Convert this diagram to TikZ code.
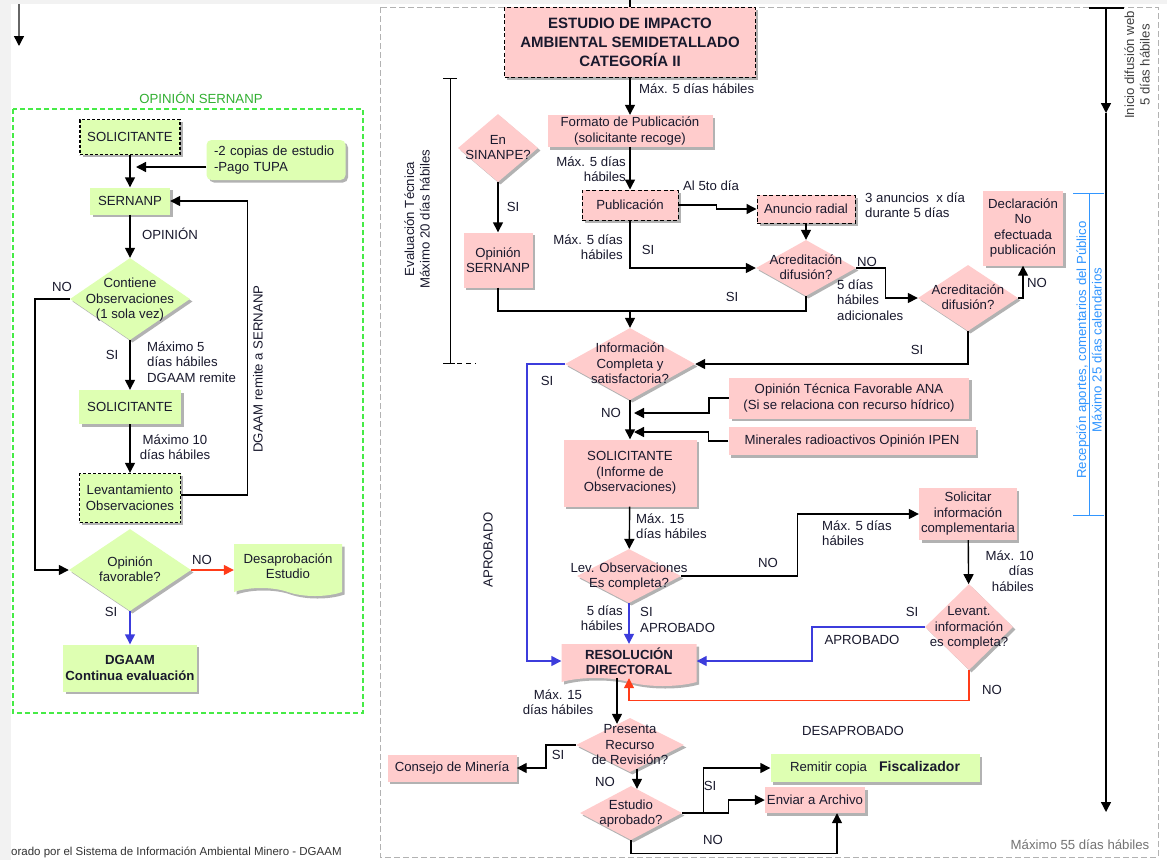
\documentclass[tikz,border=0pt]{standalone}
\usepackage{fontspec}
\setmainfont{Liberation Sans}
\usetikzlibrary{shapes.geometric, shapes.symbols, shadows, arrows.meta}
\definecolor{pinkc}{RGB}{255,204,204}
\definecolor{greenc}{RGB}{222,255,178}
\definecolor{framegreen}{RGB}{70,235,70}
\definecolor{titlegreen}{RGB}{50,175,50}
\definecolor{bluec}{RGB}{60,60,220}
\definecolor{redc}{RGB}{255,60,25}
\definecolor{skyc}{RGB}{50,150,255}
\definecolor{txtc}{RGB}{25,25,45}
\newcommand{\nfont}{\fontsize{13.2}{15.5}\selectfont}
\newcommand{\dtxt}[1]{\makebox[0pt]{\smash{\raisebox{-4pt}{\begin{tabular}{@{}c@{}}#1\end{tabular}}}}}
\tikzset{
  >={Stealth[length=10pt, width=10pt, inset=0pt]},
  flow/.style={->, line width=1.4pt},
  sz/.style 2 args={minimum width=#1pt, minimum height=#2pt},
  shad/.style={drop shadow={shadow xshift=2.5pt, shadow yshift=-2.5pt, fill=black, opacity=.3}},
  pbox/.style={rectangle, fill=pinkc, shad, align=center, inner sep=2pt},
  pdash/.style={pbox, draw=black, dash pattern=on 4pt off 2.5pt, line width=1pt},
  gbox/.style={rectangle, fill=greenc, shad, align=center, inner sep=2pt},
  gdash/.style={gbox, draw=black, dash pattern=on 3pt off 2pt, line width=1.4pt},
  pdia/.style={diamond, fill=pinkc, inner sep=0pt, shad},
  gdia/.style={diamond, fill=greenc, inner sep=0pt, shad},
  pdoc/.style={tape, tape bend top=none, tape bend bottom=out and in, tape bend height=8pt, align=center, shad},
  lbl/.style={inner sep=1pt, align=center},
  lbll/.style={lbl, align=left, anchor=west},
  lblr/.style={lbl, align=right, anchor=east},
}
\begin{document}
\begin{tikzpicture}[x=1pt, y=-1pt, font=\nfont, text=txtc]
      \useasboundingbox (0,0) rectangle (1167,860);
      \fill[gray!10] (0,0) rectangle (1167,860);
      \fill[white] (11,4) rectangle (1167,860);
      \draw[framegreen, dash pattern=on 5pt off 3pt, line width=1.2pt] (13,109) rectangle (363,713);
      \draw[gray!60, dash pattern=on 6pt off 3pt, line width=1pt] (380,7) rectangle (1158,857);

      \node[lbl, text=titlegreen] (ttl) at (201,98) {OPINIÓN SERNANP};
      \node[gdash, sz={100}{35}] (sol1) at (130,137) {SOLICITANTE};
      \node[gbox, rounded corners=5pt, sz={139}{40}, align=left, text width=124pt] (docs) at (276,160) {-2 copias de estudio\\-Pago TUPA};
      \node[gbox, sz={80}{27}] (sern) at (130,201) {SERNANP};
      \node[gdia, sz={120}{82}] (cont) at (130,299) {\dtxt{Contiene\\Observaciones\\(1 sola vez)}};
      \node[gbox, sz={102}{34}] (sol2) at (130,407) {SOLICITANTE};
      \node[gdash, sz={101}{49}] (lev) at (130,498) {Levantamiento\\Observaciones};
      \node[gdia, sz={122}{82}] (fav) at (130,570) {\dtxt{Opinión\\favorable?}};
      \node[pdoc, fill=greenc, sz={108}{52}] (desap) at (288,566) {Desaprobación\\Estudio};
      \node[gbox, font=\nfont\bfseries, sz={123}{47}] (dgaam) at (130,668) {DGAAM\\Continua evaluación};

      \node[lbl] (lopin) at (170,234) {OPINIÓN};
      \node[lbl] (lno1) at (62,287) {NO};
      \node[lbl] (lsi1) at (112,355) {SI};
      \node[lbll] (lmax5) at (146,362) {Máximo 5\\días hábiles\\DGAAM remite};
      \node[lbl] (lmax10) at (175,447) {Máximo 10\\días hábiles};
      \node[lbl, rotate=90] (lremite) at (258,369) {DGAAM remite a SERNANP};
      \node[lbl] (lno2) at (202,560) {NO};
      \node[lbl] (lsi2) at (111,612) {SI};

      \coordinate (topl) at (19,4);
      \coordinate (topl2) at (19,46);
      \coordinate (docin) at (136,167);
      \draw[line width=1.4pt, black!60, -{Stealth[length=10pt, width=10pt, inset=0pt, black]}] (topl) -- (topl2);
      \draw[flow] ([yshift=-7pt]docs.west) -- (docin);
      \draw[flow] (sol1) -- (sern);
      \draw[flow] (sern) -- (cont);
      \draw[flow] (cont.west) -- ++(-35,0) |- (fav.west);
      \draw[flow] (cont) -- (sol2);
      \draw[flow] (sol2) -- (lev);
      \draw[flow] ([yshift=3pt]lev.east) -- ++(66,0) |- (sern.east);
      \draw[flow, redc] (fav.east) -- (fav.east -| desap.west);
      \draw[flow, bluec] (fav) -- (dgaam);

      \node[pdash, font=\fontsize{15}{19}\selectfont\bfseries, sz={251}{70}] (eia) at (630,42) {ESTUDIO DE IMPACTO\\AMBIENTAL SEMIDETALLADO\\CATEGORÍA II};
      \node[pbox, sz={165}{32}] (fmt) at (630,131) {Formato de Publicación\\(solicitante recoge)};
      \node[pdia, sz={80}{68}] (sinanpe) at (498,148) {\dtxt{En\\SINANPE?}};
      \node[pbox, sz={69}{55}] (opsern) at (498,260) {Opinión\\SERNANP};
      \node[pdash, sz={96}{30}] (pub) at (630,205) {Publicación};
      \node[pdash, sz={98}{28}] (radio) at (806,209) {Anuncio radial};
      \node[pdia, sz={100}{56}] (acr1) at (806,268) {\dtxt{Acreditación\\difusión?}};
      \node[pdia, sz={100}{66}] (acr2) at (968,298) {\dtxt{Acreditación\\difusión?}};
      \node[pbox, sz={80}{75}] (decl) at (1023,228) {Declaración\\No\\efectuada\\publicación};
      \node[pdia, sz={130}{72}] (info) at (630,364) {\dtxt{Información\\Completa y\\satisfactoria?}};
      \node[pbox, sz={240}{41}] (ana) at (849,398) {Opinión Técnica Favorable ANA\\(Si se relaciona con recurso hídrico)};
      \node[pbox, sz={247}{28}] (ipen) at (852,441) {Minerales radioactivos Opinión IPEN};
      \node[pbox, sz={133}{67}] (sol3) at (630,473) {SOLICITANTE\\(Informe de\\Observaciones)};
      \node[pdia, sz={104}{54}] (levobs) at (629,576) {\dtxt{Lev. Observaciones\\Es completa?}};
      \node[pbox, sz={92}{52}] (solinf) at (968,514) {Solicitar\\información\\complementaria};
      \node[pdia, sz={88}{86}] (levant) at (969,627) {\dtxt{Levant.\\información\\es completa?}};
      \node[pdoc, fill=pinkc, font=\nfont\bfseries, sz={135}{40}] (resol) at (629,661) {RESOLUCIÓN\\DIRECTORAL};
      \node[pdia, sz={108}{54}] (recurso) at (630,745) {\dtxt{Presenta\\Recurso\\de Revisión?}};
      \node[pbox, sz={129}{27}] (consejo) at (452,768) {Consejo de Minería};
      \node[pdia, sz={102}{54}] (estudio) at (631,813) {\dtxt{Estudio\\aprobado?}};
      \node[gbox, sz={209}{28}] (remitir) at (875,768) {Remitir copia\hspace{12pt}{\fontsize{14}{16}\selectfont\bfseries Fiscalizador}};
      \node[pbox, sz={87}{26}] (archivo) at (815,800) {Enviar a Archivo};

      \node[lbll] (lmx1) at (638,89) {Máx. 5 días hábiles};
      \node[lblr] (lmx2) at (627,169) {Máx. 5 días\\hábiles};
      \node[lbl] (lal5) at (711,186) {Al 5to día};
      \node[lbll] (lanun) at (864,205) {3 anuncios\ \ x día\\durante 5 días};
      \node[lblr] (lmx3) at (624,247) {Máx. 5 días\\hábiles};
      \node[lbl] (lsi3) at (648,250) {SI};
      \node[lbl] (lsi4) at (732,297) {SI};
      \node[lbl] (lno3) at (867,262) {NO};
      \node[lbll] (l5d) at (836,300) {5 días\\hábiles\\adicionales};
      \node[lbl] (lno4) at (1037,283) {NO};
      \node[lbl] (lsi5) at (917,350) {SI};
      \node[lbl] (lsi6) at (513,207) {SI};
      \node[lbl] (lsi7) at (547,381) {SI};
      \node[lbl, rotate=90] (lapr1) at (488,550) {APROBADO};
      \node[lbl] (lno5) at (611,413) {NO};
      \node[lbll] (lmx4) at (635,526) {Máx. 15\\días hábiles};
      \node[lbl] (lno6) at (768,563) {NO};
      \node[lbll] (lmx5) at (821,533) {Máx. 5 días\\hábiles};
      \node[lblr] (lmx6) at (1035,571) {Máx. 10\\días\\hábiles};
      \node[lblr] (l5d2) at (624,618) {5 días\\hábiles};
      \node[lbll] (lsiap) at (639,620) {SI\\APROBADO};
      \node[lbl] (lsi8) at (912,612) {SI};
      \node[lbl] (lapr2) at (862,640) {APROBADO};
      \node[lbl] (lno7) at (992,690) {NO};
      \node[lbl] (lmx7) at (558,702) {Máx. 15\\días hábiles};
      \node[lbl] (ldes) at (853,731) {DESAPROBADO};
      \node[lbl] (lsi9) at (558,755) {SI};
      \node[lbl] (lno8) at (605,782) {NO};
      \node[lbl] (lsi10) at (710,786) {SI};
      \node[lbl] (lno9) at (713,840) {NO};
      \node[lbl, text=black!55] (l55) at (1080,845) {Máximo 55 días hábiles};
      \node[lbl, rotate=90] (leval) at (417,219) {Evaluación Técnica\\Máximo 20 días hábiles};
      \node[lbl, rotate=90, text=black!75] (lweb) at (1137,65) {Inicio difusión web\\5 días hábiles};
      \node[lbl, rotate=90, text=skyc] (lpub) at (1089,350) {Recepción aportes, comentarios del Público\\Máximo 25 días calendarios};
      \node[lbll, text=black!80, font=\fontsize{11.5}{13}\selectfont] (lfoot) at (10,852) {orado por el Sistema de Información Ambiental Minero - DGAAM};

      \coordinate (eiatop) at (630,0);
      \coordinate (merge) at (630,311);
      \coordinate (anain) at (634,413);
      \coordinate (ipenin) at (634,432);
      \draw[line width=1.4pt] (eiatop) -- (eia.north);
      \draw[flow] (eia) -- (fmt);
      \draw[flow] (fmt) -- (pub);
      \draw[flow] (pub.east) -- ++(38,0) |- (radio.west);
      \draw[flow] (radio) -- (acr1);
      \draw[flow] (pub.south) |- (acr1.west);
      \draw[flow] (sinanpe) -- (opsern);
      \draw[line width=1.4pt] (opsern.south) |- (merge);
      \draw[line width=1.4pt] (acr1.south) |- (merge);
      \draw[flow] (merge) -- (info.north);
      \draw[flow] (acr1.east) -- ++(29,0) |- (acr2.west);
      \draw[flow] (acr2.east) -| (decl.south);
      \draw[flow] (acr2.south) |- (info.east);
      \draw[flow, bluec] (info.west) -- ++(-38,0) |- (resol.west);
      \draw[flow] (info) -- (sol3);
      \draw[flow] (ana.west) -- ++(-20,0) |- (anain);
      \draw[flow] (ipen.west) -- ++(-20,0) |- (ipenin);
      \draw[flow] (sol3) -- (levobs);
      \draw[flow] (levobs.east) -- ++(116,0) |- (solinf.west);
      \draw[flow] (solinf) -- (levant);
      \draw[flow, bluec] (levobs) -- (resol);
      \draw[flow, bluec] (levant.west) -- ++(-113,0) |- (resol.east);
      \draw[flow, redc] (levant.south) -- ++(0,30) -| (resol.south);
      \draw[flow] ([xshift=-12pt]resol.south) -- ([xshift=-13pt, yshift=-6pt]recurso.north);
      \draw[flow] (recurso.west) -- ++(-30,0) |- (consejo.east);
      \draw[flow] ([xshift=7pt, yshift=3.5pt]recurso.south) -- ([xshift=6pt, yshift=-3pt]estudio.north);
      \draw[flow] (estudio.east) -- ++(21,0) |- (remitir.west);
      \draw[flow] (estudio.east) -- ++(46,0) |- (archivo.west);
      \draw[flow] (estudio.south) -- ++(0,13) -| ([xshift=22pt]archivo.south);

      \coordinate (webtop) at (1106,8);
      \coordinate (webmid) at (1106,113);
      \coordinate (webend) at (1106,812);
      \draw[line width=2.5pt] (1089,8) -- (1124,8);
      \draw[flow] (webtop) -- (webmid);
      \draw[flow] (webmid) -- (webend);
      \draw[skyc, line width=1pt] (1073,193) -- (1104,193) (1089,193) -- (1089,515) (1073,515) -- (1104,515);
      \draw[line width=1pt] (443,78) -- (457,78) (450,78) -- (450,363) (443,363) -- (455,363);
      \draw[line width=1pt, dash pattern=on 5pt off 4pt] (457,363) -- (476,363);
\end{tikzpicture}
\end{document}
